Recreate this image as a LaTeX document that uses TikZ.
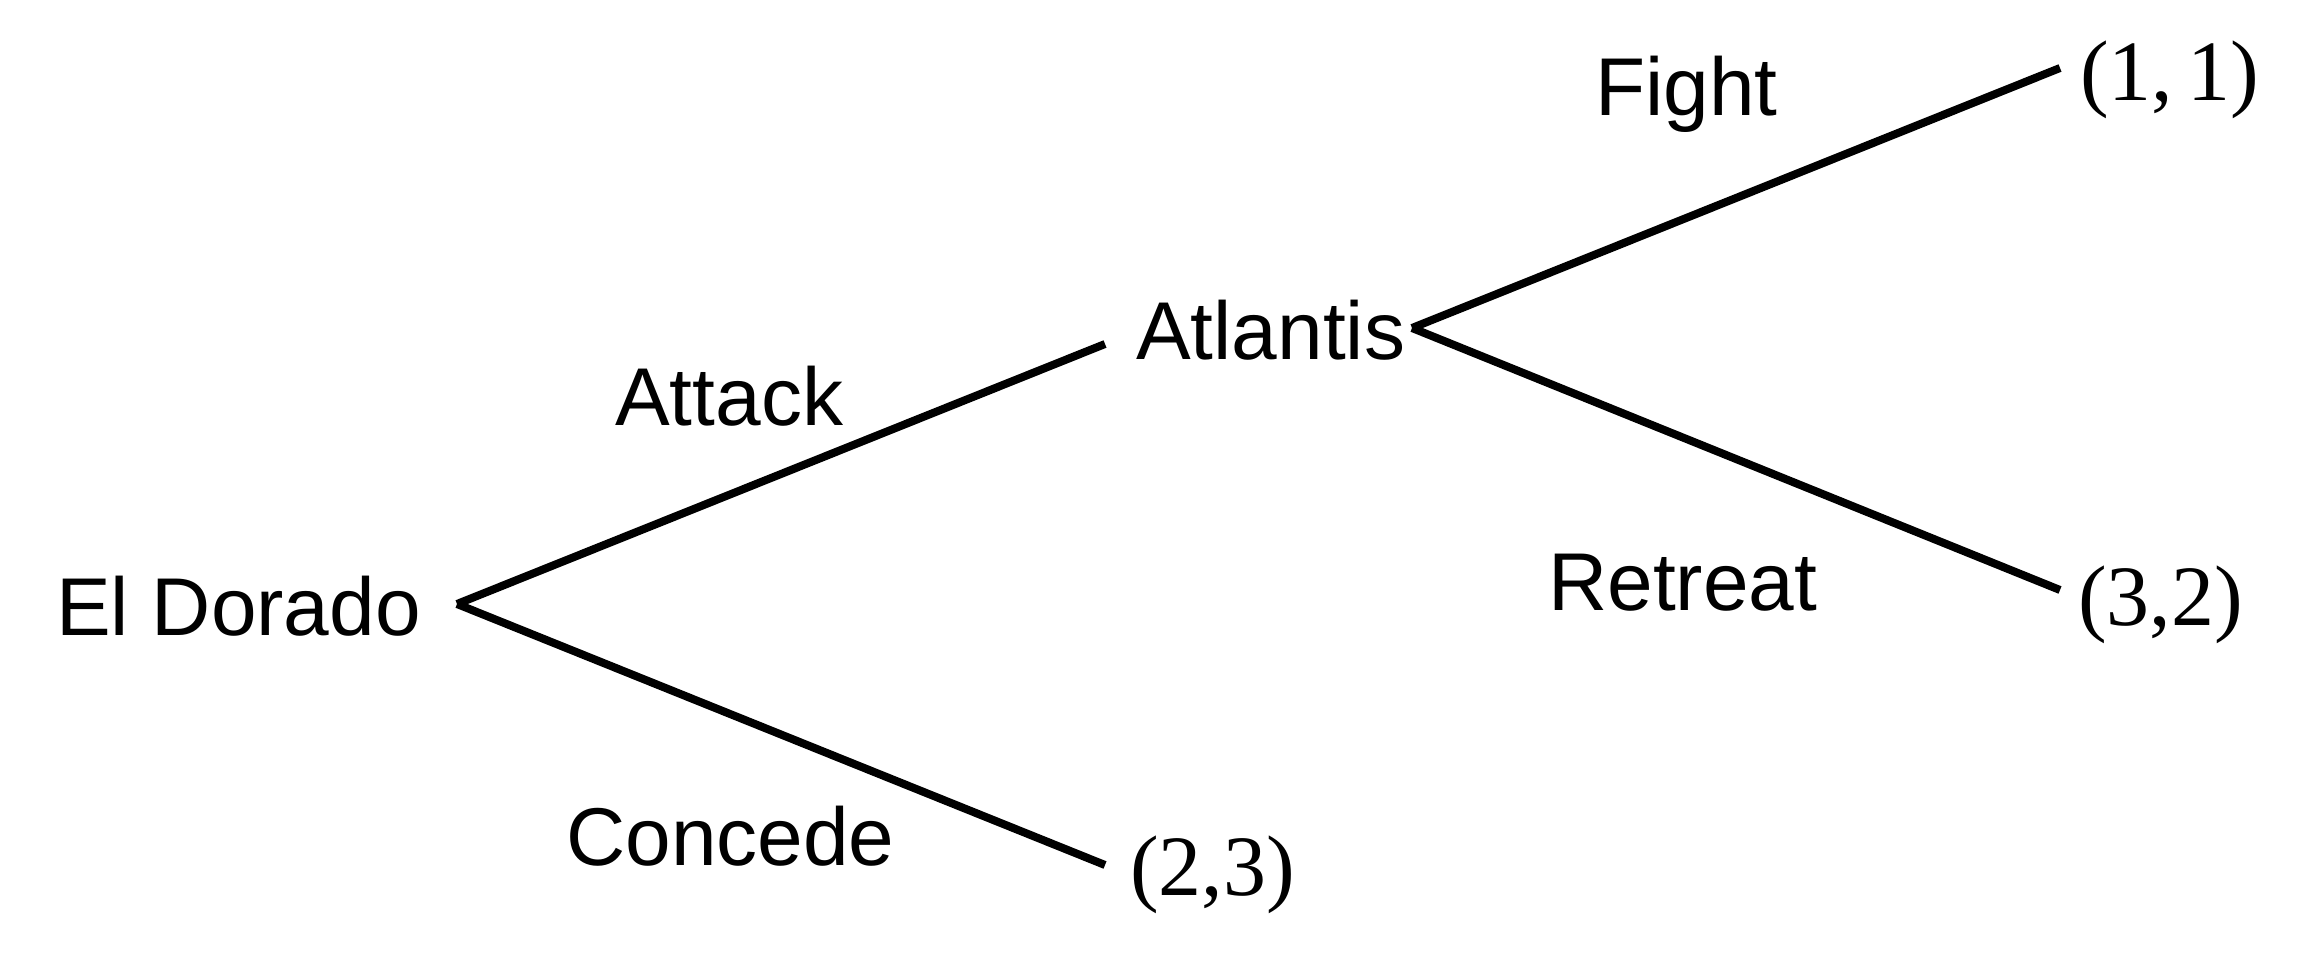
\documentclass[tikz,border=0pt]{standalone}
\usepackage{fontspec}
\setmainfont{Liberation Sans}
\newfontfamily\payfont{Liberation Serif}
\begin{document}
\begin{tikzpicture}[x=1pt,y=-1pt,
  lbl/.style={inner sep=0pt,anchor=base west,font=\fontsize{82}{100}\selectfont},
  pay/.style={inner sep=0pt,anchor=base west,font=\payfont\fontsize{86}{100}\selectfont},
  edge/.style={line width=8pt}]
\useasboundingbox (0,0) rectangle (2314,953);
% vertices
\coordinate (root) at (457,604);
\coordinate (attackend) at (1105,344);
\coordinate (concedeend) at (1105,865);
\coordinate (atl) at (1412,328);
\coordinate (fightend) at (2060,68);
\coordinate (retreatend) at (2060,590);
% texts
\node[lbl] (eldorado) at (56,635) {El Dorado};
\node[lbl] (atlantis) at (1136,359) {Atlantis};
\node[lbl] (attack) at (615,425) {Attack};
\node[lbl] (concede) at (566,865) {Concede};
\node[lbl] (fight) at (1595,115) {Fight};
\node[lbl] (retreat) at (1548,610) {Retreat};
\node[pay] (p11) at (2080,100) {(1,\,1)};
\node[pay] (p32) at (2078,625) {(3,2)};
\node[pay] (p23) at (1130,895) {(2,3)};
% edges
\draw[edge] (root) -- (attackend);
\draw[edge] (root) -- (concedeend);
\draw[edge] (atl) -- (fightend);
\draw[edge] (atl) -- (retreatend);
\end{tikzpicture}
\end{document}
